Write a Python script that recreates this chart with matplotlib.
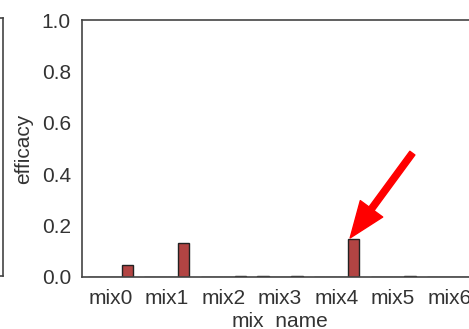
import numpy as np
import matplotlib
matplotlib.use("Agg")
import matplotlib.pyplot as plt

# data
mix_names = ["mix0", "mix1", "mix2", "mix3", "mix4", "mix5", "mix6"]
hue_levels = ["h0", "h1", "h2", "h3"]
efficacy = {
    "h0": [0.0, 0.0, 0.0, 0.004, 0.0, 0.0, 0.0],
    "h1": [0.0, 0.0, 0.0, 0.0, 0.0, 0.0, 0.0],
    "h2": [0.0, 0.0, 0.0, 0.0, 0.0, 0.0, 0.0],
    "h3": [0.047, 0.133, 0.002, 0.004, 0.147, 0.002, 0.001],
}
hue_colors = ["#8c8c8c", "#8c8c8c", "#8c8c8c", "#b24443"]
y_ticks = [0.0, 0.2, 0.4, 0.6, 0.8, 1.0]
highlight = "mix4"

plt.rcParams["font.family"] = ["Liberation Sans", "DejaVu Sans"]
text_col = "#333333"
W, H = 469, 329

fig = plt.figure(figsize=(W / 100, H / 100), dpi=100)

# edge of the neighbouring panel, cut off at the left
ax0 = fig.add_axes([-0.5, 53 / H, 0.5 + 3 / W, 258 / H])
ax0.set_xticks([])
ax0.set_yticks([])
for s in ax0.spines.values():
    s.set_color("#444444")
    s.set_linewidth(1.2)

ax = fig.add_axes([82 / W, 52 / H, 396 / W, 257 / H])
x = np.arange(len(mix_names))
n_hue = len(hue_levels)
bw = 0.8 / n_hue
for i, h in enumerate(hue_levels):
    off = -0.4 + bw * (i + 0.5)
    ax.bar(x + off, efficacy[h], width=bw, color=hue_colors[i],
           edgecolor="#222222", linewidth=1.0, zorder=2)

ax.set_xlim(-0.5, len(mix_names) - 0.5)
ax.set_ylim(0, 1.0)
ax.set_yticks(y_ticks)
ax.set_yticklabels([f"{v:.1f}" for v in y_ticks])
ax.set_xticks(x)
ax.set_xticklabels(mix_names)
ax.tick_params(axis="both", length=0, labelsize=15, colors=text_col)
ax.tick_params(axis="y", pad=8)
ax.tick_params(axis="x", pad=9)
ax.set_ylabel("efficacy", fontsize=15, color=text_col, labelpad=6)
ax.set_xlabel("mix_name", fontsize=15, color=text_col, labelpad=2)
for s in ax.spines.values():
    s.set_color("#444444")
    s.set_linewidth(1.2)

# red arrow pointing at the highlighted bar
k = mix_names.index(highlight)
tip = (k + 0.24, efficacy["h3"][k] + 0.005)
ax.annotate("", xy=tip, xytext=(tip[0] + 1.1, tip[1] + 0.33),
            arrowprops=dict(facecolor="red", edgecolor="red", width=4.5,
                            headwidth=20, headlength=26, shrink=0),
            zorder=5)

fig.savefig("out.png", dpi=100)
